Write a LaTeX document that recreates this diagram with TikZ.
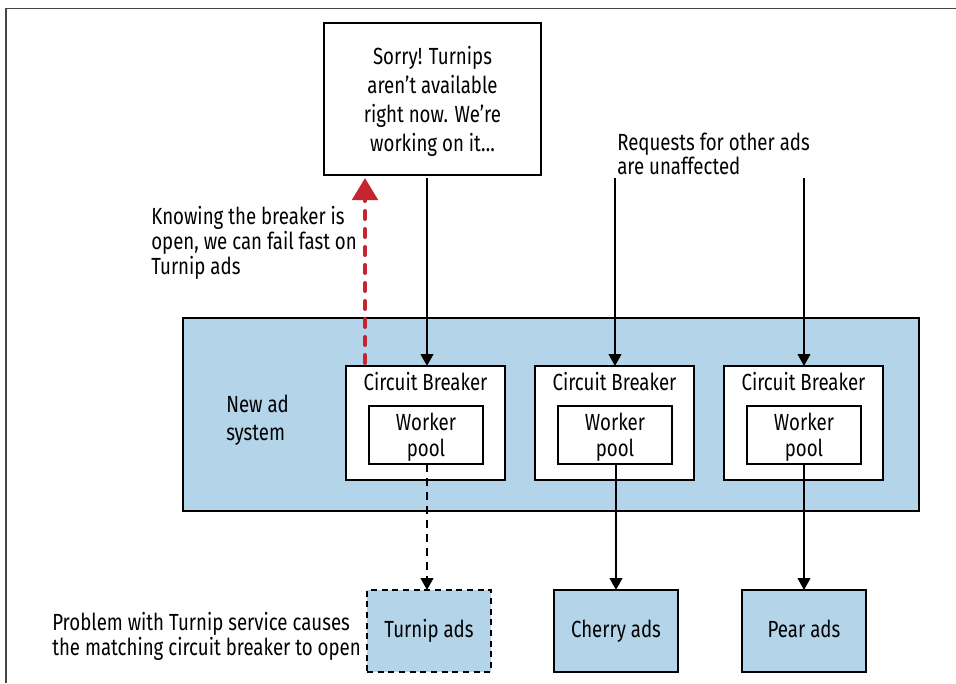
\documentclass[tikz,border=0pt]{standalone}
\usepackage{fontspec}
\setmainfont{Fira Sans}[FakeStretch=0.8]
\usetikzlibrary{arrows.meta}
\definecolor{adblue}{RGB}{179,212,233}
\definecolor{failred}{RGB}{198,36,46}
\definecolor{framegray}{RGB}{70,70,70}
\begin{document}
\begin{tikzpicture}[x=0.75pt,y=-0.75pt,
  txt/.style={font=\fontsize{17.5}{19.5}\selectfont, inner sep=0pt},
  boxed/.style={draw=black, line width=1.8pt, inner sep=0pt, outer sep=0pt},
  sized/.style 2 args={minimum width=#1*0.75pt, minimum height=#2*0.75pt},
  oneline/.style={text height=12.5pt, text depth=3.5pt},
  arr/.style={line width=1.5pt, -{Triangle[length=9pt,width=9.5pt]}},
  failarr/.style={draw=failred, line width=3pt, line cap=round, dash pattern=on 6pt off 7.5pt,
    -{Triangle[length=16.5pt,width=19pt,line cap=butt]}},
]
\useasboundingbox (0,0) rectangle (956,683);
% page frame
\draw[framegray, line width=1.1pt] (6,683) -- (6,8.5) -- (956,8.5);

% message box
\node[boxed, fill=white, sized={217}{152},
      label={[txt, align=center, font=\fontsize{17.5}{21.75}\selectfont, yshift=-1.9pt]center:{Sorry! Turnips\\aren’t available\\right now. We’re\\working on it\ldots}}] (sorry) at (432.5,99) {};

% system box
\node[boxed, fill=adblue, sized={736}{193}] (system) at (551,414.5) {};
\node[txt, align=left, anchor=west, font=\fontsize{17.5}{21}\selectfont] (syslabel) at (226,420) {New ad\\system};

% circuit breakers
\foreach \i/\x in {1/425.5,2/614.5,3/803.5}{
  \node[boxed, fill=white, sized={159}{114}] (cb\i) at (\x,423) {};
  \node[txt, oneline] (cbl\i) at (\x,384.5) {Circuit Breaker};
  \node[boxed, fill=white, sized={114}{58},
        label={[txt, align=center, font=\fontsize{17.5}{19.5}\selectfont, yshift=-1.5pt]center:{Worker\\pool}}] (wp\i) at (\x+0.5,435) {};
}

% ad services
\node[boxed, dash pattern=on 4.5pt off 3.5pt, fill=adblue, sized={124}{82}, txt, oneline] (turnip) at (429,631) {Turnip ads};
\node[boxed, fill=adblue, sized={124}{82}, txt, oneline] (cherry) at (616,631) {Cherry ads};
\node[boxed, fill=adblue, sized={124}{82}, txt, oneline] (pear) at (804,631) {Pear ads};

% request arrows
\coordinate (req2) at (615,178);
\coordinate (req3) at (804,178);
\draw[arr] (sorry.south -| 427,0) ++(0,3) coordinate (s1) -- (cb1.north -| s1);
\draw[arr] (req2) -- (cb2.north -| req2);
\draw[arr] (req3) -- (cb3.north -| req3);

% service arrows
\draw[arr, dash pattern=on 6pt off 4.5pt] (wp1.south -| 427,0) -- (turnip.north -| 427,0);
\draw[arr] (wp2.south -| 616,0) -- (cherry.north -| 616,0);
\draw[arr] (wp3.south -| 804,0) -- (pear.north -| 804,0);

% fail fast arrow
\draw[failarr] (cb1.north -| 365,0) ++(0,-3) coordinate (f0) -- ([yshift=-3*0.75pt]sorry.south -| f0);

% annotations
\node[txt, align=left, anchor=west, font=\fontsize{17.5}{18.75}\selectfont] (know) at (151,242.5)
  {Knowing the breaker is\\open, we can fail fast on\\Turnip ads};
\node[txt, align=left, anchor=west, font=\fontsize{17.5}{18}\selectfont] (reqlabel) at (617,154)
  {Requests for other ads\\are unaffected};
\node[txt, align=left, anchor=west, font=\fontsize{17.5}{18.75}\selectfont] (problem) at (52,636)
  {Problem with Turnip service causes\\the matching circuit breaker to open};
\end{tikzpicture}
\end{document}
